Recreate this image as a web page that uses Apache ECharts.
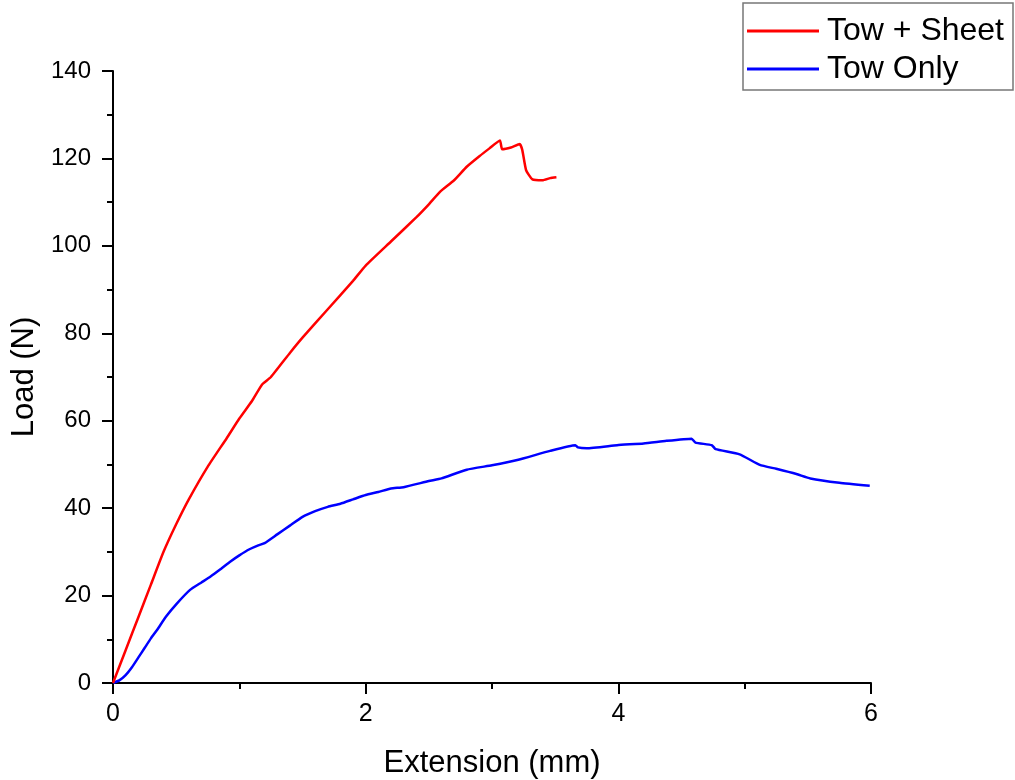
<!DOCTYPE html>
<html><head><meta charset="utf-8">
<script src="https://cdn.jsdelivr.net/npm/echarts@6/dist/echarts.min.js"></script>
<style>html,body{margin:0;padding:0;background:#fff}#c{width:1015px;height:780px}</style>
</head><body><div id="c"></div>
<script>
const seriesNames = ['Tow + Sheet', 'Tow Only'];
const redX = [0, 0.1, 0.2, 0.3, 0.4, 0.5, 0.6, 0.75, 0.9, 1.0, 1.1, 1.18, 1.25, 1.4, 1.5, 1.7, 1.9, 2.0, 2.2, 2.4, 2.5, 2.59, 2.7, 2.8, 2.9, 2.98, 3.063, 3.08, 3.15, 3.22, 3.24, 3.27, 3.32, 3.4, 3.46, 3.51];
const redY = [0, 7.5, 15, 22.5, 30, 36.3, 42, 49.5, 56, 60.5, 64.5, 68.3, 70, 75.5, 79, 85.5, 92, 95.5, 101, 106.5, 109.5, 112.4, 115, 118.1, 120.5, 122.3, 124.1, 122.1, 122.5, 123.3, 121.9, 117.3, 115.2, 115.0, 115.5, 115.7];
const blueX = [0, 0.05, 0.1, 0.15, 0.2, 0.25, 0.3, 0.35, 0.42, 0.5, 0.61, 0.7, 0.77, 0.85, 0.93, 1.0, 1.08, 1.15, 1.2, 1.3, 1.4, 1.5, 1.6, 1.7, 1.8, 1.9, 2.0, 2.1, 2.2, 2.3, 2.5, 2.6, 2.8, 3.0, 3.2, 3.46, 3.66, 3.68, 3.75, 3.99, 4.2, 4.38, 4.58, 4.61, 4.74, 4.77, 4.96, 5.12, 5.25, 5.41, 5.52, 5.75, 5.99];
const blueY = [0, 0.6, 1.8, 3.6, 5.8, 8, 10.2, 12.2, 15.2, 18, 21.3, 23, 24.3, 26, 27.8, 29.2, 30.6, 31.5, 32, 34, 36, 38, 39.3, 40.3, 41, 42, 43, 43.7, 44.5, 44.8, 46.2, 46.8, 48.8, 49.8, 51, 53.1, 54.4, 53.9, 53.7, 54.4, 54.8, 55.4, 55.9, 55.0, 54.4, 53.5, 52.3, 49.9, 49, 47.8, 46.8, 45.8, 45.1];
const xTicks = [0, 2, 4, 6];
const yTicks = [0, 20, 40, 60, 80, 100, 120, 140];

const zip = (a, b) => a.map((v, i) => [v, b[i]]);
const font = 'Liberation Sans, Arial, sans-serif';
const chart = echarts.init(document.getElementById('c'), null, {renderer: 'canvas'});
const axisCommon = {
  axisLine: {show: true, lineStyle: {color: '#000', width: 2}},
  axisTick: {show: true, inside: false, length: 11, lineStyle: {color: '#000', width: 2}},
  minorTick: {show: true, splitNumber: 2, length: 6, lineStyle: {color: '#000', width: 2}},
  splitLine: {show: false},
  nameTextStyle: {color: '#000', fontSize: 31, fontFamily: font},
  nameLocation: 'middle'
};
chart.setOption({
  animation: false,
  backgroundColor: '#fff',
  grid: {left: 113, right: 144, top: 71, bottom: 97, containLabel: false, outerBoundsMode: 'none'},
  legend: {
    orient: 'vertical', left: 743, top: 3,
    padding: [12, 9, 5, 4],
    itemGap: 6, itemWidth: 72, itemHeight: 3, icon: 'rect',
    borderColor: '#777', borderWidth: 1.5,
    textStyle: {color: '#000', fontSize: 32, fontFamily: font, padding: [0, 0, 0, 3]},
    data: seriesNames
  },
  xAxis: Object.assign({}, axisCommon, {
    type: 'value', min: 0, max: 6, interval: 2,
    name: 'Extension (mm)', nameGap: 65,
    axisLabel: {color: '#000', fontSize: 25, fontFamily: font, margin: 19,
      formatter: v => xTicks.includes(v) ? String(v) : ''}
  }),
  yAxis: Object.assign({}, axisCommon, {
    type: 'value', min: 0, max: 140, interval: 20,
    name: 'Load (N)', nameGap: 71, nameRotate: 90,
    axisLabel: {color: '#000', fontSize: 24, fontFamily: font, margin: 22,
      formatter: v => yTicks.includes(v) ? String(v) : ''}
  }),
  series: [
    {name: seriesNames[0], type: 'line', data: zip(redX, redY), symbol: 'none', smooth: 0.15,
     lineStyle: {color: '#ff0000', width: 2.5}, itemStyle: {color: '#ff0000'}, z: 3},
    {name: seriesNames[1], type: 'line', data: zip(blueX, blueY), symbol: 'none', smooth: 0.15,
     lineStyle: {color: '#0000ff', width: 2.5}, itemStyle: {color: '#0000ff'}, z: 2}
  ]
});
</script></body></html>
